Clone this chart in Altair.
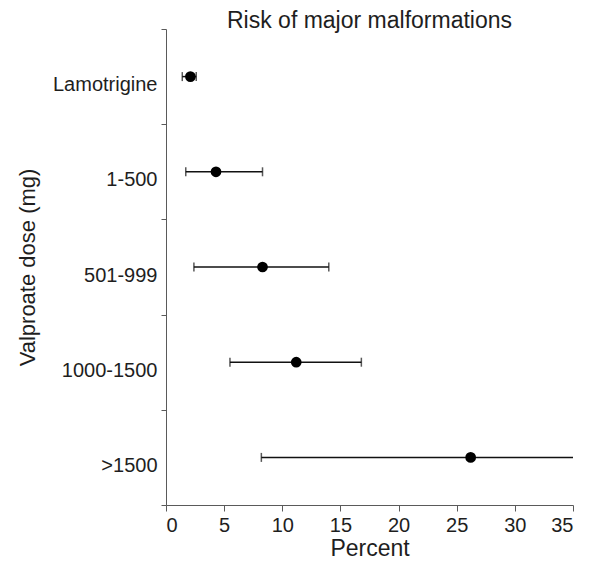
import altair as alt
import pandas as pd

categories = ["Lamotrigine", "1-500", "501-999", "1000-1500", ">1500"]
estimate = [2.1, 4.3, 8.3, 11.2, 26.2]
lower = [1.4, 1.7, 2.4, 5.5, 8.2]
upper = [2.6, 8.3, 14.0, 16.8, 40.0]
x_ticks = [0, 5, 10, 15, 20, 25, 30, 35]

df = pd.DataFrame({"dose": categories, "est": estimate, "lo": lower, "hi": upper})

FONT = "Liberation Sans"
TXT = "#1e1e1e"
AX = "#5a5a5a"

y_enc = alt.Y(
    "dose:N",
    sort=categories,
    scale=alt.Scale(paddingInner=0, paddingOuter=0),
    axis=alt.Axis(
        title="Valproate dose (mg)",
        tickBand="extent",
        labelFontSize=20,
        titleFontSize=22,
        titleFontWeight="normal",
        labelFont=FONT,
        titleFont=FONT,
        labelColor=TXT,
        titleColor=TXT,
        domainColor=AX,
        tickColor=AX,
        tickSize=5,
        labelPadding=4,
        labelOffset=8,
        titlePadding=13,
    ),
)
x_scale = alt.Scale(domain=[0, 35], nice=False)
x_axis = alt.Axis(
    title="Percent",
    values=x_ticks,
    grid=False,
    labelFontSize=20,
    titleFontSize=23,
    titleFontWeight="normal",
    labelFont=FONT,
    titleFont=FONT,
    labelColor=TXT,
    titleColor=TXT,
    domainColor=AX,
    tickColor=AX,
    tickSize=6,
    labelPadding=4,
    titlePadding=2,
)

bars = alt.Chart(df).mark_rule(color="#111", strokeWidth=1.5, clip=True).encode(
    x=alt.X("lo:Q", scale=x_scale, axis=x_axis),
    x2="hi:Q",
    y=y_enc,
)

caps_lo = alt.Chart(df).mark_tick(color="#111", thickness=1.5, size=9).encode(
    x=alt.X("lo:Q", scale=x_scale),
    y=alt.Y("dose:N", sort=categories),
)
caps_hi = alt.Chart(df).transform_filter("datum.hi <= 35").mark_tick(
    color="#111", thickness=1.5, size=9
).encode(
    x=alt.X("hi:Q", scale=x_scale),
    y=alt.Y("dose:N", sort=categories),
)

points = alt.Chart(df).mark_point(filled=True, color="#000", size=115, opacity=1).encode(
    x=alt.X("est:Q", scale=x_scale),
    y=alt.Y("dose:N", sort=categories),
)

chart = (
    alt.layer(bars, caps_lo, caps_hi, points)
    .properties(
        width=407,
        height=476,
        title=alt.TitleParams(
            "Risk of major malformations",
            fontSize=23,
            font=FONT,
            fontWeight="normal",
            color=TXT,
            offset=-14,
        ),
        padding={"left": 8, "top": 2, "right": 0, "bottom": 0},
    )
    .configure_view(stroke=None)
)

chart.save("out.html", embed_options={"renderer": "svg", "actions": False})
